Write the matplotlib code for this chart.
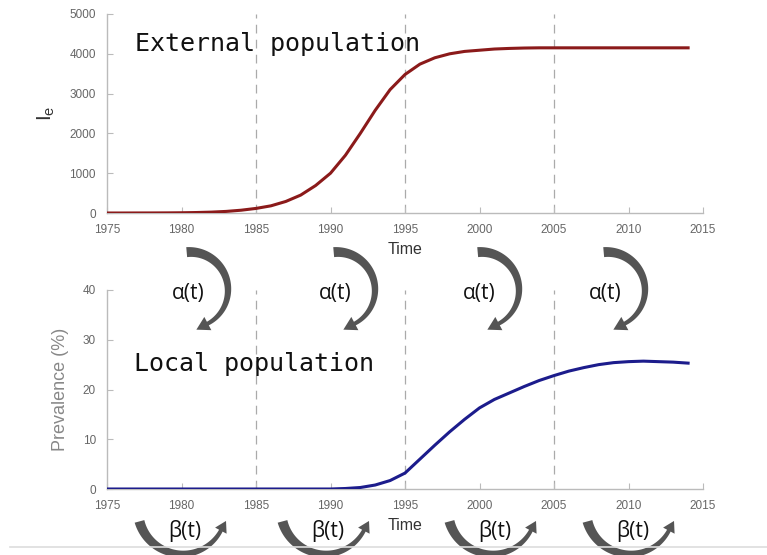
import numpy as np
import matplotlib.pyplot as plt
from matplotlib.patches import Polygon

plt.rcParams['font.family'] = ['Liberation Sans', 'DejaVu Sans']

# data
years = np.arange(1975, 2015)
external = [0, 0, 1, 1.5, 3, 6, 12, 22, 40, 70,
            115, 180, 290, 450, 690, 1000, 1450, 2000, 2580, 3100,
            3480, 3740, 3900, 4000, 4060, 4090, 4120, 4135, 4145, 4150,
            4150, 4150, 4150, 4150, 4150, 4150, 4150, 4150, 4150, 4150]
local = [0, 0, 0, 0, 0, 0, 0, 0, 0, 0,
         0, 0, 0, 0, 0, 0, 0.1, 0.3, 0.8, 1.7,
         3.2, 6.0, 8.8, 11.5, 14.0, 16.3, 18.0, 19.3, 20.6, 21.8,
         22.8, 23.7, 24.4, 25.0, 25.4, 25.6, 25.7, 25.6, 25.5, 25.3]
breaks = [1985, 1995, 2005]
xticks = [1975, 1980, 1985, 1990, 1995, 2000, 2005, 2010, 2015]

# arrow positions in pixel space (annotation, not data)
alpha_x = [190, 337, 481, 607]
beta_x = [182, 325, 492, 630]

W, H = 767, 555
fig = plt.figure(figsize=(W / 100, H / 100), dpi=100)

ax1 = fig.add_axes([107 / W, 1 - 213 / H, 596 / W, 199 / H])
ax2 = fig.add_axes([107 / W, 1 - 489 / H, 596 / W, 199 / H])

GRAY = '#bbbbbb'
for ax in (ax1, ax2):
    for s in ('top', 'right'):
        ax.spines[s].set_visible(False)
    for s in ('left', 'bottom'):
        ax.spines[s].set_color(GRAY)
        ax.spines[s].set_linewidth(1.0)
    ax.set_xlim(1975, 2015)
    ax.set_xticks(xticks)
    ax.tick_params(direction='in', length=4, color=GRAY, labelcolor='#666666',
                   labelsize=8.5, pad=8)
    for b in breaks:
        ax.axvline(b, color='#aaaaaa', lw=0.9, ls=(0, (7, 5)), zorder=1)
    ax.set_xlabel('Time', fontsize=11.5, color='#333333', labelpad=4)

ax1.plot(years, external, color='#8b1a1a', lw=2.2, zorder=3)
ax1.set_ylim(0, 5000)
ax1.set_yticks([0, 1000, 2000, 3000, 4000, 5000])
fig.text(46 / W, 1 - 113 / H, r'$\mathregular{I_e}$', fontsize=15,
         color='#333333', rotation=90, ha='center', va='center')
ax1.text(0.047, 0.85, 'External population', transform=ax1.transAxes,
         family='DejaVu Sans Mono', fontsize=18, color='#111111', va='center')

ax2.plot(years, local, color='#1c1c8c', lw=2.2, zorder=3)
ax2.set_ylim(0, 40)
ax2.set_yticks([0, 10, 20, 30, 40])
ax2.set_ylabel('Prevalence (%)', fontsize=13, color='#888888', labelpad=10)
ax2.text(0.045, 0.63, 'Local population', transform=ax2.transAxes,
         family='DejaVu Sans Mono', fontsize=18, color='#111111', va='center')

# overlay in pixel coordinates for the curved arrows
ov = fig.add_axes([0, 0, 1, 1], zorder=10)
ov.set_xlim(0, W)
ov.set_ylim(H, 0)
ov.axis('off')
ov.patch.set_alpha(0)


def curved_arrow(cx, cy, r, a0, a1, w0, w1, hw, hl, color='#555555'):
    t = np.radians(np.linspace(a0, a1, 80))
    w = np.linspace(w0, w1, 80)
    ox = cx + (r + w / 2) * np.cos(t)
    oy = cy + (r + w / 2) * np.sin(t)
    ix = cx + (r - w / 2) * np.cos(t)
    iy = cy + (r - w / 2) * np.sin(t)
    te = t[-1]
    sgn = np.sign(a1 - a0)
    ex, ey = cx + r * np.cos(te), cy + r * np.sin(te)
    dx, dy = -np.sin(te) * sgn, np.cos(te) * sgn
    nx, ny = np.cos(te), np.sin(te)
    tip = (ex + dx * hl, ey + dy * hl)
    b1 = (ex + nx * hw / 2, ey + ny * hw / 2)
    b2 = (ex - nx * hw / 2, ey - ny * hw / 2)
    pts = list(zip(ox, oy)) + [b1, tip, b2] + list(zip(ix[::-1], iy[::-1]))
    ov.add_patch(Polygon(pts, closed=True, facecolor=color, edgecolor='none'))


for x in alpha_x:
    curved_arrow(x, 290, 38, -95, 62, 10, 4, 15, 13)
    ov.text(x - 2, 293, r'α(t)', fontsize=15, ha='center', va='center',
            family='Open Sans', color='#111111')

for x in beta_x:
    curved_arrow(x, 510, 44, 165, 28, 10, 4, 13, 11)
    ov.text(x + 3, 531, r'β(t)', fontsize=15, ha='center', va='center',
            family='Open Sans', color='#111111')

ov.plot([10, W], [547, 547], color='#dddddd', lw=1.2)

fig.savefig('out.png', dpi=100)
